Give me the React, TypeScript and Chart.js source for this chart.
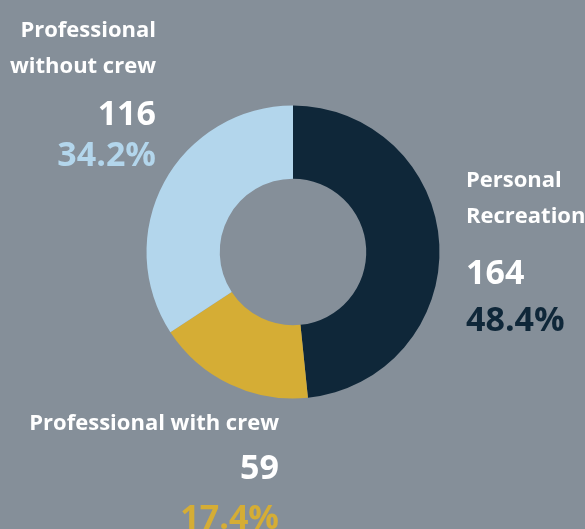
import React, { useEffect, useRef } from "react";
import { Chart, registerables } from "chart.js";

Chart.register(...registerables);

const categories = ["Personal Recreation", "Professional with crew", "Professional without crew"];
const labelLines = [["Personal", "Recreation"], ["Professional with crew"], ["Professional", "without crew"]];
const values = [164, 59, 116];
const colors = ["#0f2739", "#d5ad35", "#b3d6ec"];
const BG = "#858f99";
const FONT = "'Open Sans', Lato, sans-serif";

// label anchor layout per slice
const labelLayout = [
  { x: 466, align: "left", lines: [187, 223], num: 284, pct: 331 },
  { x: 279, align: "right", lines: [430], num: 479, pct: 529 },
  { x: 156, align: "right", lines: [37, 73], num: 125, pct: 166 },
];

const labelPlugin = {
  id: "sliceLabels",
  afterDraw(chart: any) {
    const ctx = chart.ctx;
    const total = values.reduce((a, b) => a + b, 0);
    ctx.save();
    values.forEach((v, i) => {
      const L = labelLayout[i];
      ctx.textAlign = L.align;
      ctx.textBaseline = "alphabetic";
      ctx.fillStyle = "#ffffff";
      ctx.font = `bold 22px ${FONT}`;
      labelLines[i].forEach((t, j) => ctx.fillText(t, L.x, L.lines[j]));
      ctx.font = `bold 34px ${FONT}`;
      ctx.fillText(String(v), L.x, L.num);
      ctx.fillStyle = colors[i];
      ctx.fillText(((v / total) * 100).toFixed(1) + "%", L.x, L.pct);
    });
    ctx.restore();
  },
};

export default function App() {
  const ref = useRef<HTMLCanvasElement>(null);
  useEffect(() => {
    document.body.style.margin = "0";
    const chart = new Chart(ref.current!, {
      type: "doughnut",
      data: {
        labels: categories,
        datasets: [
          {
            data: values,
            backgroundColor: colors,
            borderWidth: 0,
          },
        ],
      },
      options: {
        animation: false,
        responsive: false,
        cutout: "50%",
        layout: { padding: { left: 146.5, right: 145.5, top: 105.5, bottom: 130.5 } },
        plugins: { legend: { display: false }, tooltip: { enabled: false } },
      },
      plugins: [labelPlugin],
    });
    return () => chart.destroy();
  }, []);
  return (
    <div style={{ width: 585, height: 529, background: BG, overflow: "hidden" }}>
      <canvas ref={ref} width={585} height={529} style={{ display: "block" }} />
    </div>
  );
}
